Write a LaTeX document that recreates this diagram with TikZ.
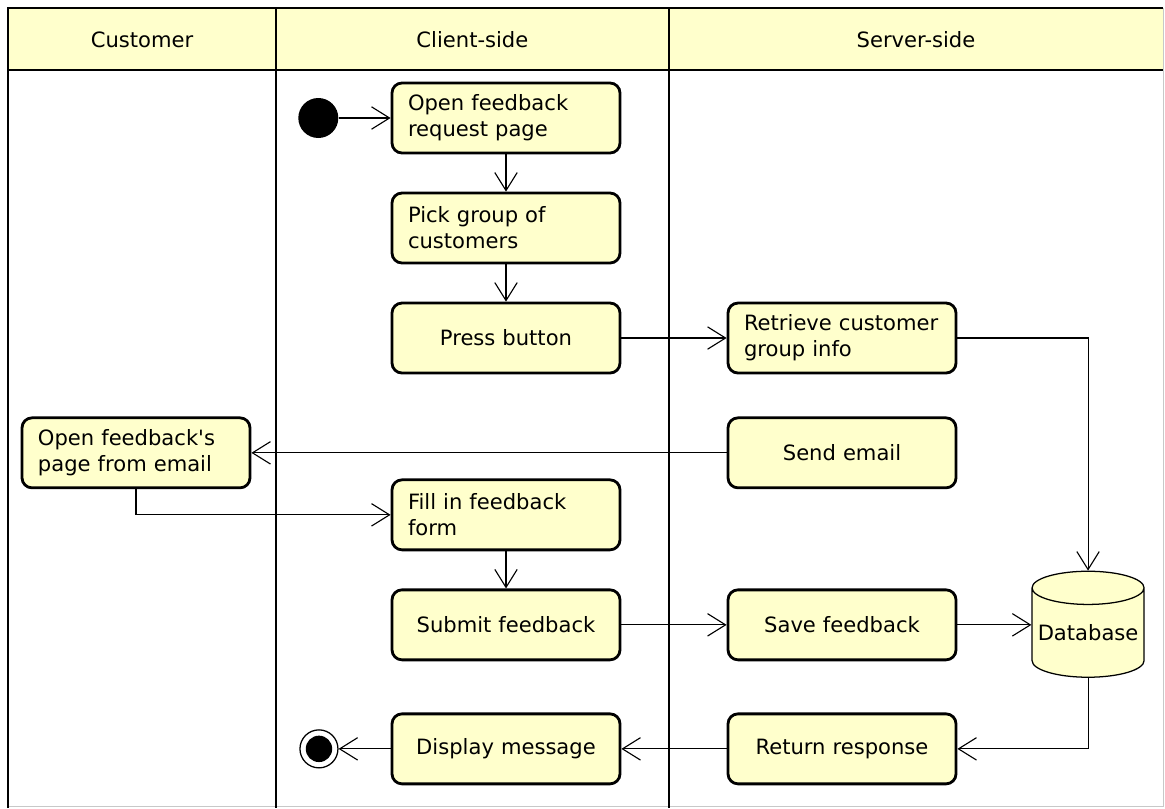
\documentclass[tikz,border=0pt]{standalone}
\usepackage{fontspec}
\setmainfont{DejaVu Sans}
\usetikzlibrary{positioning,shapes.geometric,arrows.meta}
\definecolor{actYellow}{RGB}{255,255,204}
\definecolor{frameGray}{RGB}{200,200,200}

\begin{document}
\begin{tikzpicture}[node distance=0.93cm, font=\fontsize{15}{18.5}\selectfont]
    % Define styles
    \tikzstyle{action} = [rectangle, draw, line width=2pt, fill=actYellow, rounded corners=0.25cm, text width=4.9cm, inner xsep=0.4cm, minimum height=1.75cm, align=left]
    \tikzstyle{single} = [action, align=center]
    \tikzstyle{database} = [cylinder, shape border rotate=90, draw, line width=0.9pt, fill=actYellow, aspect=0.33, minimum width=2.8cm, minimum height=2.65cm, inner sep=0pt]
    \tikzstyle{startnode} = [circle, fill=black, minimum size=1cm, inner sep=0pt]
    \tikzstyle{finalnode} = [circle, draw, line width=0.9pt, minimum size=0.95cm, inner sep=0pt, path picture={\fill (path picture bounding box.center) circle (0.33cm);}]
    \tikzstyle{arrow} = [line width=0.8pt, -{Straight Barb[length=4.5mm, width=5.6mm]}]

    % Swimlanes
    \useasboundingbox (0,0) rectangle (29.125,-20.2);
    \fill [actYellow] (0.2,-0.2) rectangle (29.075,-1.75);
    \draw [frameGray, line width=0.6pt] (29.075,-0.2) -- (29.075,-20.15) -- (0.2,-20.15);
    \draw [line width=2pt] (0.2,-20.2) -- (0.2,-0.2) -- (29.075,-0.2);
    \draw [line width=2pt] (0.2,-1.75) -- (29.075,-1.75);
    \draw [line width=2pt] (6.9,-0.2) -- (6.9,-20.2);
    \draw [line width=2pt] (16.725,-0.2) -- (16.725,-20.2);
    \node (customer) at (3.55,-1.0) {Customer};
    \node (client) at (11.81,-1.0) {Client-side};
    \node (server) at (22.9,-1.0) {Server-side};

    % Client-side
    \node [action] (open) at (12.65,-2.95) {Open feedback\\request page};
    \node [action, below=of open] (pick) {Pick group of\\customers};
    \node [single, below=of pick] (press) {Press button};
    \node [action, below=2.6cm of press] (fill) {Fill in feedback\\form};
    \node [single, below=of fill] (submit) {Submit feedback};
    \node [single, below=1.28cm of submit] (display) {Display message};
    \node [startnode, left=1.3cm of open] (start) {};
    \node [finalnode, left=1.3cm of display] (final) {};

    % Server-side
    \node [action, right=2.63cm of press] (retrieve) {Retrieve customer\\group info};
    \node [single, below=1.05cm of retrieve] (send) {Send email};
    \node [single, right=2.63cm of submit] (save) {Save feedback};
    \node [single, right=2.63cm of display] (ret) {Return response};
    \node [database, right=1.85cm of save, yshift=-0.2cm] (db) {Database};

    % Customer
    \node [action, left=11.88cm of send] (openpage) {Open feedback\textquotesingle s\\page from email};

    % Arrows
    \draw [arrow] (start) -- (open);
    \draw [arrow] (open) -- (pick);
    \draw [arrow] (pick) -- (press);
    \draw [arrow] (press) -- (retrieve);
    \draw [arrow] (retrieve.east) -| (db.north);
    \draw [arrow] (send) -- (openpage);
    \draw [arrow] (openpage.south) |- (fill.west);
    \draw [arrow] (fill) -- (submit);
    \draw [arrow] (submit) -- (save);
    \draw [arrow] (save.east) -- (save.east -| db.west);
    \draw [arrow] (db.south) |- (ret.east);
    \draw [arrow] (ret) -- (display);
    \draw [arrow] (display) -- (final);
\end{tikzpicture}
\end{document}
